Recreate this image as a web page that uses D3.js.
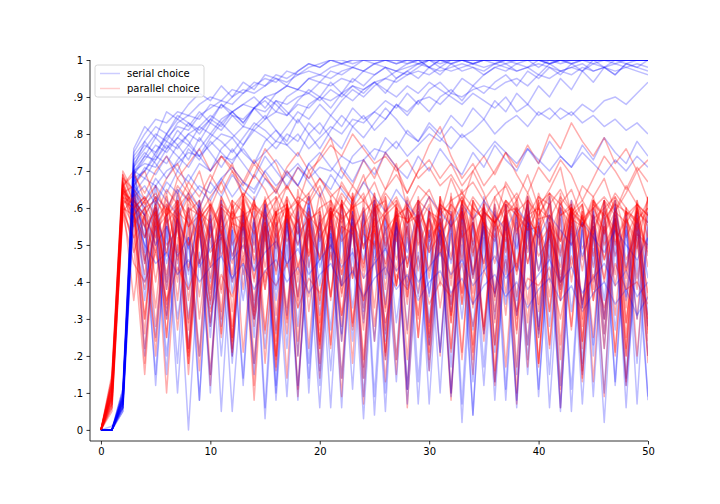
<!DOCTYPE html>
<html>
<head>
<meta charset="utf-8">
<script src="https://cdn.jsdelivr.net/npm/d3@7"></script>
<style>
  body { margin: 0; background: #fff; }
  text { font-family: "DejaVu Sans", sans-serif; }
</style>
</head>
<body>
<div id="c1"></div>
<script>
// Values are in hundredths (0..100), one value per step 0..50
var serialRuns = [
  [0,0,8,72,76,80,78,83,85,84,88,87,90,92,91,93,95,94,96,97,96,98,99,98,100,99,100,100,99,100,100,100,99,100,100,100,100,99,100,100,100,100,100,99,100,100,100,100,100,100,100],
  [0,0,10,70,74,73,78,76,80,82,85,83,86,88,87,90,91,93,92,95,96,95,97,98,97,99,100,99,100,100,98,100,100,100,99,100,100,100,100,100,98,100,100,100,100,99,100,100,100,100,100],
  [0,1,6,68,70,75,79,82,81,85,87,89,88,91,93,95,94,97,96,98,99,100,99,100,100,100,100,99,100,100,100,100,100,100,99,100,100,100,100,100,100,100,100,99,100,100,100,100,100,100,100],
  [0,0,7,64,68,66,70,72,75,74,77,80,79,82,81,84,86,85,88,87,90,89,91,93,92,94,95,94,96,97,96,98,97,98,99,98,99,100,99,100,100,99,100,100,100,100,100,99,100,100,100],
  [0,0,9,66,62,68,64,70,67,72,70,74,73,76,72,75,78,77,80,76,79,82,80,84,83,86,84,88,86,89,90,88,91,90,92,93,92,94,95,93,96,95,97,96,98,97,98,99,98,99,98],
  [0,0,5,62,58,63,60,65,62,66,64,68,63,67,65,70,66,69,72,68,71,70,74,72,73,76,75,78,74,77,80,78,82,79,81,84,80,83,85,82,86,84,87,85,88,86,89,90,88,91,94],
  [0,0,11,75,80,84,83,86,85,88,90,89,92,91,94,93,96,95,97,99,98,100,99,100,100,100,100,100,100,99,100,100,100,100,100,100,100,100,100,100,100,99,100,100,100,100,100,100,100,100,100],
  [0,0,8,70,72,71,76,79,77,82,80,84,86,83,87,89,86,90,92,91,94,93,95,94,97,96,98,97,99,100,98,100,99,100,100,100,99,100,100,100,100,100,99,100,100,100,100,100,100,100,100],
  [0,0,6,69,73,77,75,79,83,81,84,82,86,88,90,87,91,93,92,95,94,97,96,98,97,99,98,97,98,99,98,97,98,99,98,97,99,98,97,98,99,98,97,98,97,99,98,97,98,97,96],
  [0,0,9,67,70,74,72,77,80,78,83,81,85,84,87,86,89,88,90,91,89,92,90,93,91,94,92,90,93,91,94,92,90,88,91,89,87,90,86,88,85,87,84,86,83,85,82,84,81,83,80],
  [0,0,7,65,60,66,62,58,64,60,67,63,69,65,62,68,64,70,66,72,68,65,71,67,73,69,75,71,68,74,70,76,72,69,75,71,77,73,70,76,72,78,74,71,77,73,79,75,72,78,74],
  [0,0,8,66,20,58,15,60,22,57,10,62,18,59,25,61,12,58,20,63,16,60,24,57,14,62,19,59,11,61,23,58,17,60,13,63,21,57,15,60,26,58,12,62,18,59,22,61,14,58,20],
  [0,0,7,62,58,12,55,18,60,8,57,20,54,14,59,6,56,22,61,10,58,16,55,24,60,9,57,19,62,13,54,21,59,7,56,17,61,11,58,23,55,15,60,5,57,20,62,12,54,18,59],
  [0,0,10,68,35,60,30,57,38,62,28,55,40,59,33,61,26,56,36,63,31,58,39,54,29,60,34,57,27,62,37,55,32,59,41,56,30,61,35,58,28,63,38,55,33,60,26,57,36,59,31],
  [0,0,6,60,55,25,58,30,52,20,60,28,55,35,57,22,53,31,59,18,56,27,61,33,54,24,58,29,52,36,60,21,55,30,57,26,53,34,59,19,56,28,61,32,54,23,58,27,55,30,52],
  [0,0,9,70,45,62,38,58,30,55,25,60,20,56,15,58,10,54,8,57,12,55,6,59,9,53,5,56,11,58,7,54,10,57,4,55,8,52,6,58,9,54,5,56,7,53,10,57,6,55,8],
  [0,0,5,58,50,15,55,10,52,8,58,5,54,12,56,3,50,9,57,14,53,6,55,11,59,4,52,13,56,7,54,10,58,2,51,12,55,8,53,15,57,6,50,11,56,9,54,13,58,7,55],
  [0,0,11,72,48,66,40,64,42,60,33,62,37,58,30,61,35,57,28,60,39,55,26,59,32,62,24,56,38,58,29,61,34,54,27,60,36,57,31,63,25,55,40,59,33,58,30,62,35,56,28],
  [0,0,8,64,52,60,45,57,49,62,40,58,47,55,43,60,38,57,50,61,44,53,39,58,46,62,41,55,48,59,36,57,45,60,42,54,37,58,49,61,43,56,40,59,47,55,35,60,44,57,41],
  [0,0,7,66,40,55,20,50,0,48,15,52,5,45,18,55,8,50,12,47,6,53,14,49,3,51,10,56,7,48,16,54,9,50,4,52,13,47,8,55,11,50,6,53,15,49,2,51,12,46,9],
  [0,0,6,61,50,45,48,42,46,40,44,47,41,45,38,43,46,40,44,37,42,45,39,43,36,41,44,38,42,35,40,43,37,41,34,39,42,36,40,33,38,41,35,39,32,37,40,34,38,31,36],
  [0,0,9,69,58,50,55,47,52,44,49,53,46,50,43,48,51,45,49,42,46,50,44,48,41,45,49,43,47,40,44,48,42,46,39,43,47,41,45,38,42,46,40,44,37,41,45,39,43,36,40],
  [0,0,8,71,78,74,80,77,73,79,75,71,76,72,68,74,70,66,71,67,63,69,65,61,67,63,59,65,61,57,63,59,55,61,57,62,58,54,60,56,52,58,54,50,56,52,48,54,50,46,52],
  [0,0,9,74,78,82,80,85,83,80,84,88,86,83,87,90,88,85,89,92,90,94,91,95,93,96,98,95,97,99,100,98,100,100,99,100,100,100,100,100,100,100,100,100,100,100,100,100,100,100,100],
  [0,0,7,70,68,73,77,74,71,76,80,78,75,79,83,81,78,82,86,84,88,85,89,92,90,93,95,97,96,98,100,99,100,100,100,100,100,100,100,100,100,100,100,100,100,100,100,100,100,100,100],
  [0,0,10,76,82,79,86,84,88,91,89,93,90,94,92,96,95,93,97,99,98,100,100,99,100,100,100,100,100,100,100,100,100,100,100,100,100,100,100,100,100,100,100,100,100,100,100,100,100,100,100],
  [0,0,6,66,71,69,74,70,76,73,78,75,72,77,81,79,76,80,78,83,80,85,82,87,84,86,89,87,91,88,92,94,91,95,93,96,98,97,99,98,100,99,100,100,100,100,100,100,100,100,100],
  [0,0,8,69,74,79,76,81,78,74,79,83,80,77,82,85,81,78,84,80,76,81,85,82,79,83,87,84,80,78,82,79,76,80,77,74,78,75,72,76,73,70,74,71,75,72,69,73,70,74,71],
  [0,0,9,73,77,75,80,84,82,86,83,88,85,82,87,84,89,86,83,88,90,87,91,89,92,94,91,95,97,95,98,96,99,97,98,96,98,99,97,98,96,99,97,98,99,97,98,96,99,98,97],
  [0,0,7,63,66,61,67,64,69,65,62,68,71,67,64,70,73,69,66,72,75,71,68,74,77,73,79,76,81,78,83,80,85,82,87,84,89,86,91,88,93,90,95,92,97,94,98,96,99,98,100],
  [0,0,8,71,75,72,68,73,77,74,70,76,79,75,72,78,81,77,74,80,83,79,76,82,85,81,84,88,85,89,86,90,92,89,93,91,94,96,93,97,95,98,96,99,97,100,98,100,99,100,100]
];

var parallelRuns = [
  [0,10,65,60,30,58,25,62,35,57,28,60,22,63,32,56,27,61,20,59,34,58,24,62,30,55,26,60,36,57,21,63,29,59,33,56,23,61,31,58,27,64,35,55,22,60,30,57,25,62,28],
  [0,8,62,35,60,28,57,40,61,30,55,25,59,38,63,27,56,33,60,22,58,36,62,29,57,24,61,39,55,31,59,20,64,34,56,26,60,37,58,23,62,32,57,28,61,35,55,21,59,30,63],
  [0,12,68,62,55,48,58,42,60,45,56,38,61,47,57,40,63,44,55,36,59,49,62,41,58,46,54,39,60,43,57,50,61,37,56,45,59,42,63,48,55,40,60,44,58,38,62,47,56,41,59],
  [0,6,60,50,15,55,10,52,18,58,12,54,20,57,8,53,16,59,11,56,14,52,9,60,17,55,13,58,6,54,19,57,10,53,15,61,12,56,7,58,18,54,11,59,16,55,9,57,13,52,20],
  [0,14,70,64,60,62,58,65,55,60,52,63,57,58,50,62,55,60,53,64,51,59,56,61,49,63,54,58,57,62,52,60,55,65,50,59,56,61,53,64,57,58,51,62,55,60,54,63,52,59,56],
  [0,9,64,66,70,62,68,72,65,60,67,74,70,63,69,76,72,65,71,68,74,79,70,66,73,68,75,71,64,70,77,82,74,68,72,66,70,75,69,64,71,67,73,69,62,68,74,70,65,71,67],
  [0,11,66,60,63,58,65,61,67,63,69,64,70,66,72,68,65,71,75,70,73,77,74,80,76,72,74,70,73,68,71,66,69,64,67,62,66,60,64,58,63,61,65,59,62,57,60,63,58,61,56],
  [0,7,61,55,22,50,30,57,18,53,35,60,25,55,28,58,20,62,33,54,24,59,31,56,19,61,27,53,34,58,23,55,29,60,21,57,32,54,26,62,18,56,35,59,24,53,30,58,22,61,27],
  [0,13,67,58,62,40,60,35,64,45,58,32,62,42,56,38,60,30,65,44,57,36,61,41,59,33,63,46,55,37,60,39,58,34,62,43,56,31,61,45,57,36,64,40,59,35,55,42,60,38,63],
  [0,5,59,52,38,56,33,60,44,54,29,58,40,52,35,61,31,55,42,57,27,59,37,53,45,60,32,56,39,58,28,54,41,62,34,57,36,55,30,59,43,53,38,61,33,56,40,58,29,54,37],
  [0,10,63,61,46,57,50,54,43,59,48,52,45,60,41,55,49,58,44,53,47,61,42,56,50,54,45,59,40,57,48,53,46,60,43,55,51,58,42,56,47,52,44,61,49,55,41,59,46,53,50],
  [0,8,65,57,42,60,31,58,22,62,15,55,25,59,12,56,20,61,9,54,18,58,14,60,7,57,21,55,11,62,16,53,8,59,19,56,13,61,10,55,17,58,6,60,14,54,22,57,12,59,18],
  [0,12,62,48,58,20,60,27,55,16,57,30,62,21,54,26,59,14,61,32,56,23,58,18,63,28,55,15,60,25,57,33,53,19,61,24,58,17,56,29,62,22,54,27,59,13,57,31,60,20,55],
  [0,9,66,70,62,66,58,68,64,70,60,67,72,63,69,65,58,66,61,70,64,57,67,62,69,59,65,72,60,66,63,58,68,61,70,64,56,67,62,69,60,65,71,58,66,63,68,59,64,70,62],
  [0,15,69,63,52,61,47,64,55,58,44,62,50,56,48,63,42,59,53,57,46,60,51,55,43,64,49,58,45,61,52,56,47,62,41,59,54,57,44,63,50,55,48,60,46,58,53,62,43,57,49],
  [0,6,58,45,40,48,35,44,38,46,32,42,36,47,30,43,39,45,33,41,37,48,31,44,35,46,29,42,38,47,34,40,36,45,28,43,37,46,32,41,39,44,30,47,35,42,33,45,38,40,34],
  [0,11,64,59,26,63,34,56,21,60,37,58,24,61,30,55,19,62,35,57,22,59,28,64,33,56,20,60,36,58,25,63,31,55,23,61,38,57,27,62,32,56,19,60,34,58,26,61,29,55,24],
  [0,9,67,55,60,50,63,45,58,52,61,47,56,54,62,44,59,51,57,48,64,46,55,53,60,49,58,43,62,50,57,47,63,52,56,45,61,48,59,54,55,46,62,50,58,44,60,51,57,49,63],
  [0,10,63,58,62,55,60,57,63,59,56,61,58,64,60,57,62,66,61,64,68,63,66,62,67,71,65,69,64,70,73,68,72,66,70,74,69,75,71,77,72,80,76,83,78,74,79,72,76,70,73],
  [0,13,66,69,64,70,74,68,72,76,70,74,71,67,73,69,64,70,66,62,68,64,60,66,62,58,64,60,56,62,59,55,61,57,63,59,56,62,58,54,60,57,63,59,55,61,58,64,60,56,62],
  [0,10,64,62,58,63,56,60,64,57,61,55,62,59,53,60,63,56,61,58,54,62,57,60,64,55,59,62,56,60,53,61,58,63,57,60,55,62,59,56,61,64,58,60,55,62,57,61,59,54,60],
  [0,12,67,60,63,57,61,48,59,62,52,60,57,45,61,58,50,63,56,47,60,62,53,58,44,61,57,51,63,55,48,60,59,46,62,56,52,61,58,49,64,55,47,60,57,53,62,50,59,56,48],
  [0,7,61,64,55,59,40,62,58,36,60,54,42,63,57,38,59,61,44,56,60,35,62,58,41,57,63,39,60,55,43,61,58,37,62,56,45,59,60,34,63,57,42,58,61,40,56,62,38,60,55],
  [0,11,66,58,52,61,25,59,56,20,62,53,28,58,60,18,55,63,24,57,59,22,61,54,27,60,62,19,56,58,26,63,55,21,60,57,29,58,62,17,55,61,23,59,56,25,62,58,20,57,60],
  [0,9,63,56,60,54,58,62,50,57,61,53,59,55,62,51,58,60,56,63,52,57,61,54,59,62,50,58,60,55,61,53,57,63,51,59,56,62,54,58,60,52,61,57,55,63,53,59,56,61,58],
  [0,14,68,65,61,64,59,66,62,58,63,67,60,64,57,62,65,59,63,61,66,58,64,60,62,67,59,63,56,61,65,58,62,64,60,57,63,66,59,62,58,64,61,65,57,60,63,59,66,61,58],
  [0,8,60,58,45,60,38,57,50,59,34,61,47,56,40,62,52,58,36,60,46,55,42,63,49,57,33,61,44,59,51,56,39,62,48,58,35,60,45,57,53,61,37,59,43,62,50,56,41,60,47],
  [0,10,65,61,30,59,48,62,27,58,44,60,32,63,46,57,24,61,50,59,29,56,45,62,35,58,42,60,26,63,49,57,31,59,47,61,23,58,43,62,34,56,51,60,28,57,46,59,33,61,44],
  [0,9,62,60,18,57,42,61,15,55,38,59,21,62,45,56,17,60,40,58,23,63,36,55,14,61,44,57,19,59,41,62,22,56,37,60,16,58,43,61,25,55,39,59,13,62,46,57,20,60,35],
  [0,12,66,52,58,33,61,55,29,60,51,37,57,62,31,59,54,26,61,56,35,58,63,28,55,60,38,62,53,30,59,57,34,61,50,27,63,56,36,58,52,32,60,55,24,62,58,39,57,51,30],
  [0,7,59,63,47,24,58,61,20,55,60,26,57,63,18,54,59,29,62,56,22,60,58,27,55,64,19,57,61,25,59,53,21,62,58,28,56,60,17,63,55,23,58,61,30,54,62,20,59,57,26],
  [0,13,69,61,57,52,64,46,60,58,41,63,55,49,61,57,43,59,62,47,56,60,39,64,53,50,58,61,44,57,63,48,55,59,42,62,56,51,60,45,58,63,40,56,61,47,59,54,43,62,52]
];

var seriesNames = ["serial choice", "parallel choice"];
var seriesColors = ["#0000ff", "#ff0000"];
var xTicks = [0, 10, 20, 30, 40, 50];
var yTicks = [0, 10, 20, 30, 40, 50, 60, 70, 80, 90, 100];
var yTickLabels = ["0", ".1", ".2", ".3", ".4", ".5", ".6", ".7", ".8", ".9", "1"];

function draw() {
    var w = 720, h = 504;
    var left = 90, right = 648, top = 60, bottom = 441;

    var svg = d3.select("#c1").append("svg")
        .attr("width", w)
        .attr("height", h);

    var x = d3.scaleLinear().domain([-1, 50]).range([left, right]);
    var y = d3.scaleLinear().domain([-3, 100]).range([bottom, top]);

    svg.append("clipPath").attr("id", "clip")
        .append("rect")
        .attr("x", left).attr("y", top)
        .attr("width", right - left).attr("height", bottom - top);

    var line = d3.line()
        .x(function (d, i) { return x(i); })
        .y(function (d) { return y(d); });

    // interleave the runs: serial then parallel
    var runs = [];
    var n = Math.max(serialRuns.length, parallelRuns.length);
    for (var i = 0; i < n; i++) {
        if (i < serialRuns.length) runs.push({ k: 0, v: serialRuns[i] });
        if (i < parallelRuns.length) runs.push({ k: 1, v: parallelRuns[i] });
    }

    svg.append("g").attr("clip-path", "url(#clip)")
        .selectAll("path.run")
        .data(runs)
        .enter().append("path")
        .attr("class", "run")
        .attr("fill", "none")
        .attr("stroke", function (d) { return seriesColors[d.k]; })
        .attr("stroke-width", 1.5)
        .attr("stroke-opacity", function (d) { return d.k == 0 ? 0.26 : 0.32; })
        .attr("stroke-linejoin", "round")
        .attr("d", function (d) { return line(d.v); });

    // Axes
    var xAxis = svg.append("g")
        .attr("transform", "translate(0," + bottom + ")")
        .call(d3.axisBottom(x).tickValues(xTicks).tickSize(3.5).tickPadding(3.5));
    var yAxis = svg.append("g")
        .attr("transform", "translate(" + left + ",0)")
        .call(d3.axisLeft(y).tickValues(yTicks)
            .tickFormat(function (d, i) { return yTickLabels[i]; })
            .tickSize(3.5).tickPadding(3.5));

    [xAxis, yAxis].forEach(function (a) {
        a.selectAll("text").attr("font-size", 10).attr("fill", "#000")
            .style("font-family", "DejaVu Sans, sans-serif");
        a.selectAll("line").attr("stroke", "#000").attr("stroke-width", 0.8);
        a.select(".domain").attr("stroke", "#000").attr("stroke-width", 0.8);
    });
    xAxis.select(".domain").attr("d", "M" + left + ",0H" + right);
    yAxis.select(".domain").attr("d", "M0," + bottom + "V" + top);

    // Legend
    var lg = svg.append("g").attr("transform", "translate(95,65)");
    lg.append("rect")
        .attr("width", 109).attr("height", 32)
        .attr("rx", 2.5)
        .attr("fill", "#fff").attr("fill-opacity", 0.8)
        .attr("stroke", "#ccc").attr("stroke-width", 0.8);
    seriesNames.forEach(function (name, i) {
        var yy = 8.5 + i * 15;
        lg.append("line")
            .attr("x1", 5).attr("x2", 25)
            .attr("y1", yy).attr("y2", yy)
            .attr("stroke", seriesColors[i])
            .attr("stroke-width", 1.5)
            .attr("stroke-opacity", 0.2);
        lg.append("text")
            .attr("x", 32).attr("y", yy + 3.5)
            .attr("font-size", 10)
            .attr("fill", "#000")
            .text(name);
    });
}

draw();
</script>
</body>
</html>
